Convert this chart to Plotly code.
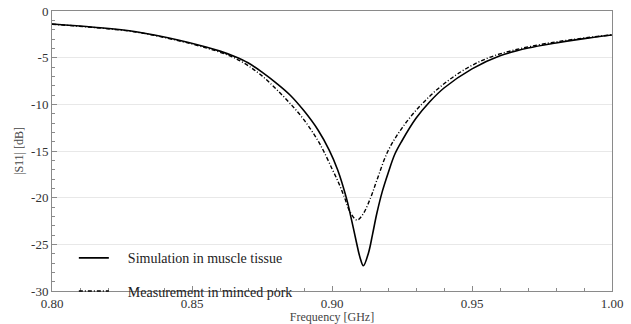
import plotly.graph_objects as go

# Simulation in muscle tissue
sim_freq = [0.800, 0.815, 0.830, 0.845, 0.855, 0.860, 0.865, 0.870, 0.875, 0.880,
            0.885, 0.890, 0.895, 0.899, 0.902, 0.9052, 0.907, 0.9087, 0.910,
            0.9112, 0.913, 0.9145, 0.916, 0.918, 0.920, 0.9225, 0.925, 0.930,
            0.935, 0.940, 0.950, 0.960, 0.970, 0.980, 0.990, 1.000]
sim_s11 = [-1.40, -1.74, -2.22, -3.10, -3.85, -4.30, -4.85, -5.55, -6.55, -7.70,
           -9.00, -10.70, -12.75, -14.90, -17.00, -20.10, -22.40, -24.75, -26.40,
           -27.30, -25.95, -23.90, -21.70, -19.30, -17.40, -15.30, -13.90, -11.50,
           -9.70, -8.25, -6.20, -4.80, -3.97, -3.42, -2.96, -2.57]

meas_freq = [0.800, 0.815, 0.830, 0.845, 0.855, 0.860, 0.865, 0.870, 0.875, 0.880,
             0.885, 0.890, 0.895, 0.897, 0.900, 0.9025, 0.9046, 0.9065, 0.9089,
             0.911, 0.9138, 0.916, 0.920, 0.925, 0.932, 0.940, 0.948, 0.956,
             0.965, 0.975, 0.985, 1.000]
meas_s11 = [-1.42, -1.77, -2.26, -3.17, -3.95, -4.42, -5.00, -5.85, -6.95, -8.35,
            -9.90, -11.66, -13.90, -15.00, -16.90, -18.50, -20.10, -21.55, -22.40,
            -21.80, -20.00, -18.15, -15.00, -12.54, -10.00, -7.80, -6.16, -5.00,
            -4.19, -3.56, -3.09, -2.55]

x_ticks = [0.80, 0.85, 0.90, 0.95, 1.00]
x_tick_labels = ["0.80", "0.85", "0.90", "0.95", "1.00"]
y_ticks = [0, -5, -10, -15, -20, -25, -30]
y_tick_labels = ["0", "-5", "-10", "-15", "-20", "-25", "-30"]

font_family = "Liberation Serif, Times New Roman, serif"
pad = "&nbsp;" * 4

fig = go.Figure()
fig.add_trace(go.Scatter(
    x=sim_freq, y=sim_s11, mode="lines", name=pad + "Simulation in muscle tissue",
    line=dict(color="black", width=1.6, shape="spline", smoothing=1.0),
    legendgroup="a"))
fig.add_trace(go.Scatter(
    x=meas_freq, y=meas_s11, mode="lines", name=pad + "Measurement in minced pork",
    line=dict(color="black", width=1.4, shape="spline", smoothing=1.0,
              dash="4px,2px,1px,2px"),
    legendgroup="b"))

axis_common = dict(
    showline=True, linecolor="#8a8a8a", linewidth=1, mirror=True,
    ticks="inside", ticklen=5, tickcolor="#8a8a8a",
    tickfont=dict(family=font_family, size=13, color="#333333"),
    zeroline=False,
)

fig.update_xaxes(
    range=[0.80, 1.00], tickvals=x_ticks, ticktext=x_tick_labels,
    showgrid=False,
    minor=dict(dtick=0.01, ticks="inside", ticklen=3, tickcolor="#8a8a8a", showgrid=False),
    title=dict(text="Frequency [GHz]", standoff=2,
               font=dict(family=font_family, size=12, color="#444444")),
    **axis_common)
fig.update_yaxes(
    range=[-30, 0], tickvals=y_ticks, ticktext=y_tick_labels,
    showgrid=True, gridcolor="#e8e8e8", gridwidth=1,
    minor=dict(dtick=1, ticks="inside", ticklen=3, tickcolor="#8a8a8a", showgrid=False),
    title=dict(text="|S11| [dB]", standoff=4,
               font=dict(family=font_family, size=12, color="#444444")),
    **axis_common)

fig.update_layout(
    width=631, height=324,
    margin=dict(l=52, r=19, t=11, b=33, autoexpand=False),
    plot_bgcolor="white", paper_bgcolor="white",
    font=dict(family=font_family, size=14, color="#222222"),
    showlegend=True,
    legend=dict(x=0.039, y=-0.058, xanchor="left", yanchor="bottom",
                bgcolor="rgba(0,0,0,0)", borderwidth=0,
                tracegroupgap=12, itemwidth=30,
                font=dict(family=font_family, size=14, color="#222222")),
)

fig.write_html("out.html", config={"displayModeBar": False},
               post_script="document.body.style.margin='0';")
